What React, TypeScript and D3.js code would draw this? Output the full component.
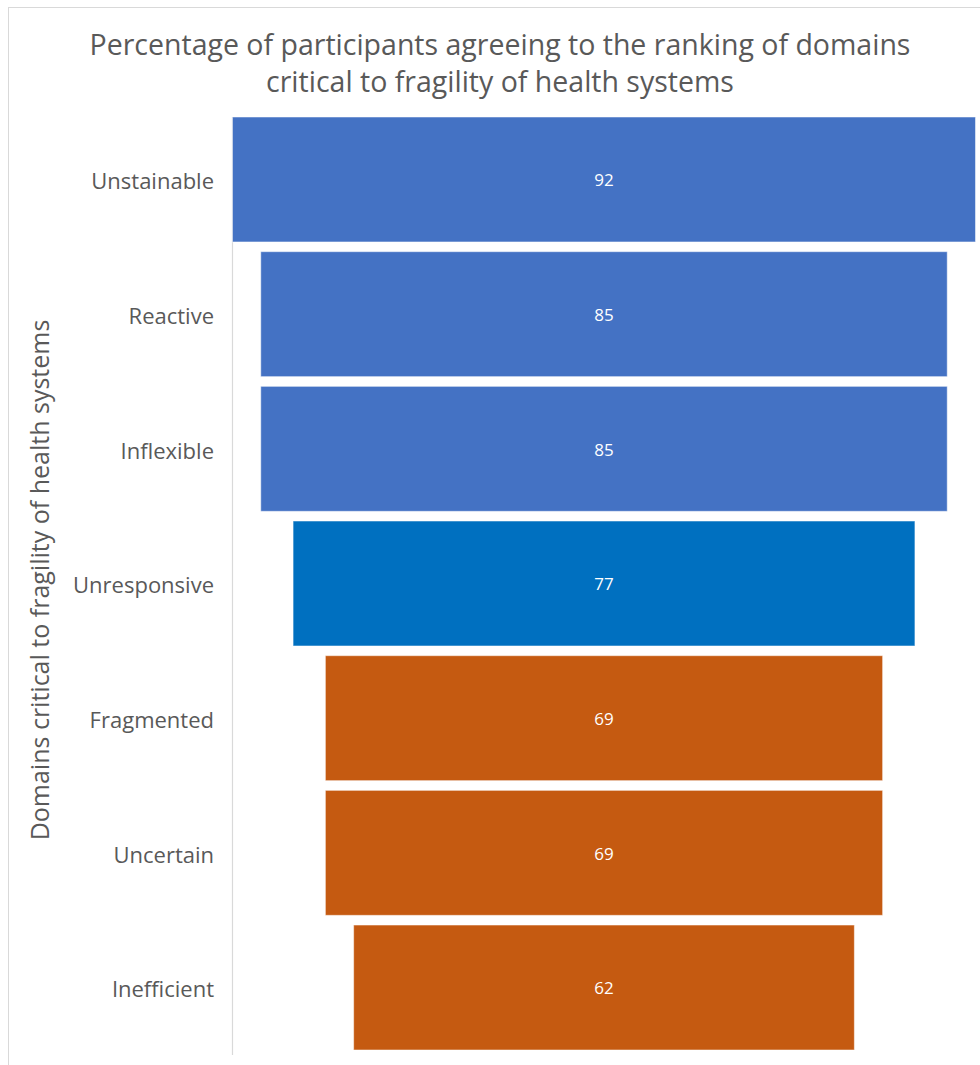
import React from "react";
import * as d3 from "d3";

const categories = ["Unstainable", "Reactive", "Inflexible", "Unresponsive", "Fragmented", "Uncertain", "Inefficient"];
const values = [92, 85, 85, 77, 69, 69, 62];
const barColors = ["#4472C4", "#4472C4", "#4472C4", "#0070C0", "#C55A11", "#C55A11", "#C55A11"];
const titleLines = [
  "Percentage of participants agreeing to the ranking of domains",
  "critical to fragility of health systems",
];
const axisTitle = "Domains critical to fragility of health systems";

const W = 980;
const H = 1065;
const FONT = "'Open Sans', 'Noto Sans', sans-serif";

export default function App() {
  const centerX = 604;
  const halfWidth = d3.scaleLinear().domain([0, 92]).range([0, 371.5]);
  const y = d3.scaleBand<string>().domain(categories).range([117, 1050]).paddingInner(0.072).paddingOuter(0);

  return (
    <svg width={W} height={H} style={{ position: "absolute", left: 0, top: 0, background: "#fff" }}>
      <rect x={8.5} y={7.5} width={W + 10} height={H + 10} fill="#fff" stroke="#d9d9d9" strokeWidth={1} />
      {titleLines.map((t, i) => (
        <text key={i} x={500} y={55 + i * 37} textAnchor="middle" fontFamily={FONT} fontSize={28.5} fill="#595959">
          {t}
        </text>
      ))}
      <line x1={232.5} x2={232.5} y1={117} y2={1055} stroke="#d9d9d9" strokeWidth={1.2} />
      {categories.map((c, i) => {
        const w = halfWidth(values[i]);
        const yy = y(c)!;
        const bh = y.bandwidth();
        return (
          <g key={c}>
            <rect x={centerX - w} y={yy} width={2 * w} height={bh} fill={barColors[i]} stroke="#fff" strokeOpacity={0.5} strokeWidth={1} />
            <text x={centerX} y={yy + bh / 2 + 1} dy="0.35em" textAnchor="middle" fontFamily={FONT} fontSize={17} fill="#fff">
              {values[i]}
            </text>
            <text x={214} y={yy + bh / 2 + 2} dy="0.35em" textAnchor="end" fontFamily={FONT} fontSize={22} fill="#595959">
              {c}
            </text>
          </g>
        );
      })}
      <text
        transform={`translate(40,580) rotate(-90)`}
        dy="0.35em"
        textAnchor="middle"
        fontFamily={FONT}
        fontSize={25}
        fill="#595959"
      >
        {axisTitle}
      </text>
    </svg>
  );
}
